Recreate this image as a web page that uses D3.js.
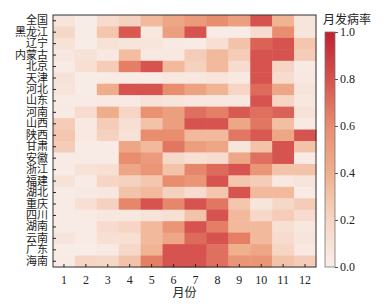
<!DOCTYPE html>
<html lang="zh">
<head>
<meta charset="utf-8">
<title>月发病率热图</title>
<script src="https://cdn.jsdelivr.net/npm/d3@7"></script>
<style>
  body { margin: 0; background: #fff; }
  text { fill: #222; }
</style>
</head>
<body>
<script>
// regions (rows, top to bottom)
var regions = ["全国","黑龙江","辽宁","内蒙古","北京","天津","河北","山东","河南","山西","陕西",
               "甘肃","安徽","浙江","福建","湖北","重庆","四川","湖南","云南","广东","海南"];
var months = ["1","2","3","4","5","6","7","8","9","10","11","12"];
var cbTicks = [0, 0.2, 0.4, 0.6, 0.8, 1.0];

// monthly incidence (normalized), one array per region
var rates = [
  [0.08,0.02,0.15,0.22,0.35,0.45,0.52,0.60,0.50,0.80,0.38,0.08],
  [0.18,0.02,0.28,0.78,0.06,0.50,0.80,0.03,0.03,0.15,0.60,0.08],
  [0.10,0.02,0.10,0.08,0.08,0.04,0.03,0.12,0.30,0.75,0.80,0.28],
  [0.06,0.10,0.05,0.33,0.05,0.05,0.25,0.35,0.25,0.80,0.80,0.25],
  [0.03,0.12,0.25,0.65,0.80,0.35,0.22,0.35,0.15,0.80,0.20,0.04],
  [0.10,0.02,0.03,0.03,0.03,0.06,0.06,0.08,0.05,0.80,0.15,0.05],
  [0.08,0.02,0.42,0.80,0.80,0.60,0.48,0.38,0.20,0.72,0.45,0.08],
  [0.03,0.03,0.04,0.04,0.10,0.08,0.06,0.06,0.06,0.80,0.20,0.06],
  [0.04,0.15,0.42,0.20,0.58,0.50,0.70,0.65,0.78,0.70,0.75,0.10],
  [0.25,0.05,0.25,0.12,0.30,0.50,0.80,0.80,0.45,0.68,0.32,0.04],
  [0.28,0.05,0.22,0.10,0.60,0.60,0.35,0.35,0.68,0.78,0.45,0.80],
  [0.25,0.03,0.03,0.45,0.35,0.68,0.50,0.45,0.08,0.30,0.80,0.30],
  [0.03,0.03,0.03,0.60,0.52,0.18,0.12,0.15,0.45,0.70,0.80,0.03],
  [0.03,0.10,0.12,0.45,0.55,0.30,0.62,0.72,0.80,0.55,0.30,0.30],
  [0.10,0.03,0.20,0.22,0.28,0.60,0.55,0.80,0.28,0.25,0.05,0.08],
  [0.03,0.04,0.06,0.30,0.35,0.22,0.15,0.28,0.80,0.35,0.35,0.03],
  [0.03,0.12,0.22,0.62,0.80,0.62,0.80,0.68,0.28,0.07,0.18,0.25],
  [0.03,0.03,0.06,0.06,0.10,0.12,0.30,0.80,0.35,0.18,0.25,0.15],
  [0.03,0.03,0.15,0.20,0.35,0.55,0.80,0.65,0.35,0.35,0.12,0.06],
  [0.07,0.03,0.12,0.12,0.35,0.45,0.72,0.80,0.65,0.35,0.15,0.08],
  [0.02,0.02,0.04,0.18,0.38,0.80,0.80,0.70,0.40,0.45,0.20,0.05],
  [0.03,0.20,0.18,0.30,0.65,0.80,0.80,0.70,0.55,0.55,0.30,0.25]
];

var W = 386, H = 304;
var m = {left: 53, top: 15};
var pw = 263, ph = 252;

var svg = d3.select("body").append("svg")
  .attr("width", W).attr("height", H);

var x = d3.scaleBand().domain(months).range([0, pw]);
var y = d3.scaleBand().domain(regions).range([0, ph]);

var color = d3.scaleLinear()
  .domain([0, 0.2, 0.4, 0.6, 0.8, 1.0])
  .range(["#f8eeea","#f6d5c4","#f0b08e","#e88d6e","#d6534f","#bf2130"]);

var g = svg.append("g").attr("transform", "translate(" + m.left + "," + m.top + ")");

// cells
var cells = [];
rates.forEach(function(row, i) {
  row.forEach(function(v, j) { cells.push({r: regions[i], mo: months[j], v: v}); });
});
g.selectAll("rect.cell").data(cells).enter().append("rect")
  .attr("class", "cell")
  .attr("x", function(d) { return x(d.mo); })
  .attr("y", function(d) { return y(d.r); })
  .attr("width", x.bandwidth() + 0.5)
  .attr("height", y.bandwidth() + 0.5)
  .attr("fill", function(d) { return color(d.v); });

// frame
g.append("rect").attr("width", pw).attr("height", ph)
  .attr("fill", "none").attr("stroke", "#333").attr("stroke-width", 1);

// axes (ticks pointing inward)
var xAxis = g.append("g").attr("transform", "translate(0," + ph + ")")
  .call(d3.axisBottom(x).tickSizeInner(-3).tickSizeOuter(0).tickPadding(8));
var yAxis = g.append("g")
  .call(d3.axisLeft(y).tickSizeInner(-3).tickSizeOuter(0).tickPadding(5));
[xAxis, yAxis].forEach(function(a) {
  a.select(".domain").remove();
  a.selectAll(".tick line").attr("stroke", "#222");
});
xAxis.selectAll("text").attr("font-family", "Liberation Serif, serif").attr("font-size", 12);
yAxis.selectAll("text").attr("font-family", "Noto Sans CJK SC, sans-serif").attr("font-size", 11);

svg.append("text")
  .attr("x", m.left + pw / 2).attr("y", 297)
  .attr("text-anchor", "middle")
  .attr("font-family", "Noto Sans CJK SC, sans-serif").attr("font-size", 12)
  .text("月份");

// colorbar
var cb = {x: 325, y: 32, w: 10, h: 235};
var defs = svg.append("defs");
var grad = defs.append("linearGradient").attr("id", "cbg")
  .attr("x1", 0).attr("y1", 1).attr("x2", 0).attr("y2", 0);
d3.range(0, 1.0001, 0.05).forEach(function(t) {
  grad.append("stop").attr("offset", t).attr("stop-color", color(t));
});
svg.append("rect").attr("x", cb.x).attr("y", cb.y).attr("width", cb.w).attr("height", cb.h)
  .attr("fill", "url(#cbg)").attr("stroke", "#777").attr("stroke-width", 0.8);

var cy = d3.scaleLinear().domain([0, 1]).range([cb.y + cb.h, cb.y]);
var cAxis = svg.append("g").attr("transform", "translate(" + (cb.x + cb.w) + ",0)")
  .call(d3.axisRight(cy).tickValues(cbTicks).tickFormat(d3.format(".1f")).tickSize(3).tickPadding(2));
cAxis.select(".domain").remove();
cAxis.selectAll(".tick line").attr("stroke", "#555");
cAxis.selectAll("text").attr("font-family", "Liberation Serif, serif").attr("font-size", 12);

svg.append("text")
  .attr("x", 347).attr("y", 24)
  .attr("text-anchor", "middle")
  .attr("font-family", "Noto Sans CJK SC, sans-serif").attr("font-size", 12)
  .text("月发病率");
</script>
</body>
</html>
